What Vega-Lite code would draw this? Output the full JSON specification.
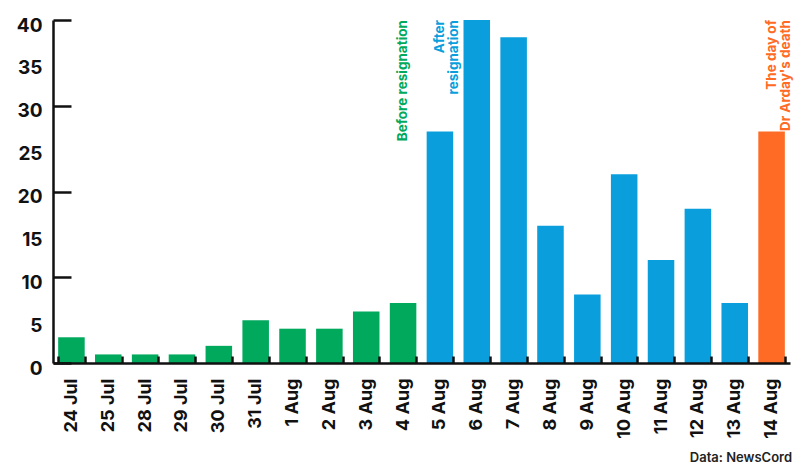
{
  "$schema": "https://vega.github.io/schema/vega-lite/v6.json",
  "width": 737,
  "height": 343,
  "autosize": {"type": "none"},
  "padding": {"left": 53, "top": 20, "right": 10, "bottom": 111},
  "background": "white",
  "config": {
    "font": "Inter",
    "view": {"strokeWidth": 0}
  },
  "title": {
    "text": "Data: NewsCord",
    "orient": "bottom",
    "anchor": "end",
    "fontSize": 13,
    "fontWeight": 600,
    "color": "#222222",
    "offset": 14
  },
  "data": {
    "values": [
      {"date": "24 Jul", "count": 3, "period": "before"},
      {"date": "25 Jul", "count": 1, "period": "before"},
      {"date": "28 Jul", "count": 1, "period": "before"},
      {"date": "29 Jul", "count": 1, "period": "before"},
      {"date": "30 Jul", "count": 2, "period": "before"},
      {"date": "31 Jul", "count": 5, "period": "before"},
      {"date": "1 Aug", "count": 4, "period": "before"},
      {"date": "2 Aug", "count": 4, "period": "before"},
      {"date": "3 Aug", "count": 6, "period": "before"},
      {"date": "4 Aug", "count": 7, "period": "before"},
      {"date": "5 Aug", "count": 27, "period": "after"},
      {"date": "6 Aug", "count": 40, "period": "after"},
      {"date": "7 Aug", "count": 38, "period": "after"},
      {"date": "8 Aug", "count": 16, "period": "after"},
      {"date": "9 Aug", "count": 8, "period": "after"},
      {"date": "10 Aug", "count": 22, "period": "after"},
      {"date": "11 Aug", "count": 12, "period": "after"},
      {"date": "12 Aug", "count": 18, "period": "after"},
      {"date": "13 Aug", "count": 7, "period": "after"},
      {"date": "14 Aug", "count": 27, "period": "death"}
    ]
  },
  "layer": [
    {
      "mark": {"type": "bar"},
      "encoding": {
        "x": {
          "field": "date",
          "type": "nominal",
          "sort": null,
          "title": null,
          "scale": {"paddingInner": 0.28, "paddingOuter": 0.14},
          "axis": {
            "labelAngle": -90, "labelFont": "Inter", "labelFontWeight": "bold", "labelFontSize": 18, "labelColor": "#111111", "labelPadding": 22,
            "domainColor": "#111111", "domainWidth": 2.5, "zindex": 1,
            "ticks": true, "tickBand": "extent", "tickSize": -7, "tickColor": "#111111", "tickWidth": 2.5
          }
        },
        "y": {
          "field": "count",
          "type": "quantitative",
          "title": null,
          "scale": {"domain": [0, 40], "nice": false},
          "axis": {
            "values": [0, 5, 10, 15, 20, 25, 30, 35, 40],
            "labelFont": "Inter", "labelFontWeight": "bold", "labelFontSize": 19, "labelColor": "#111111", "labelPadding": 29, "labelOffset": 5,
            "gridOpacity": 0, "domainColor": "#111111", "domainWidth": 2.5, "zindex": 1,
            "ticks": true, "tickSize": -18, "tickColor": "#111111", "tickWidth": 2.5,
            "tickOpacity": {"condition": {"test": "datum.value % 10 === 0", "value": 1}, "value": 0}
          }
        },
        "color": {
          "field": "period",
          "type": "nominal",
          "scale": {"domain": ["before", "after", "death"], "range": ["#00a95c", "#0a9fdc", "#ff6a24"]},
          "legend": null
        }
      }
    },
    {
      "data": {
        "values": [
          {"date": "4 Aug", "label": "Before resignation", "period": "before"},
          {"date": "5 Aug", "label": "After\nresignation", "period": "after"},
          {"date": "14 Aug", "label": "The day of\nDr Arday's death", "period": "death"}
        ]
      },
      "mark": {"type": "text", "angle": 270, "align": "right", "baseline": "middle", "fontSize": 13.5, "fontWeight": "bold", "lineBreak": "\n", "lineHeight": 14},
      "encoding": {
        "x": {"field": "date", "type": "nominal", "sort": null},
        "y": {"datum": 40},
        "text": {"field": "label"},
        "color": {"field": "period", "type": "nominal"}
      }
    }
  ]
}
